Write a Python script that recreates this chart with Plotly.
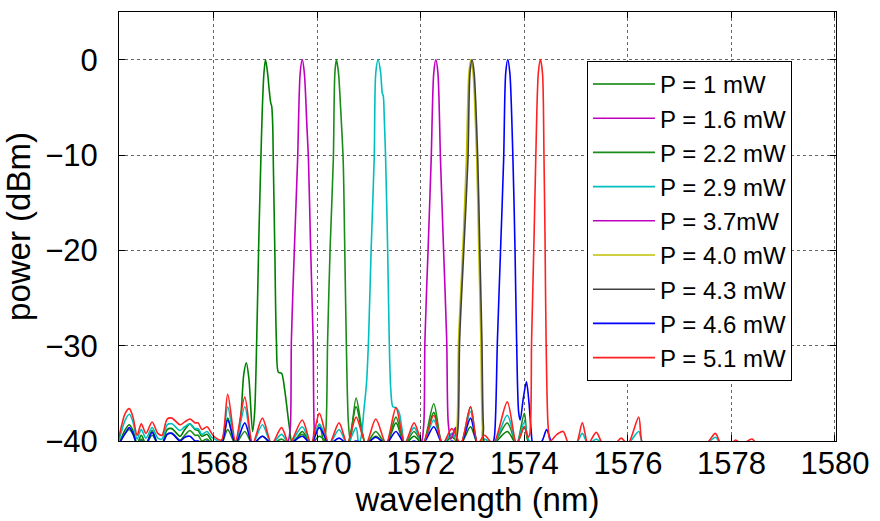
import plotly.graph_objects as go

# ---------------- data ----------------
# shared wavelength grid for the low-level ripple floor (nm)
floor_wl = [
    1566.17, 1566.29, 1566.37, 1566.44, 1566.52, 1566.60, 1566.69, 1566.81, 1566.92, 1567.00,
    1567.10, 1567.19, 1567.35, 1567.44, 1567.54, 1567.64, 1567.70, 1567.77, 1567.87, 1567.96,
    1568.02, 1568.15, 1568.27, 1568.42, 1568.60, 1568.75, 1568.94, 1569.12, 1569.31, 1569.46,
    1569.71, 1569.88, 1570.04, 1570.23, 1570.42, 1570.58, 1570.75, 1570.94, 1571.13, 1571.33,
    1571.52, 1571.69, 1571.87, 1572.04, 1572.25, 1572.42, 1572.60, 1572.77, 1572.96, 1573.10,
    1573.23, 1573.40, 1573.67, 1573.85, 1574.00, 1574.10, 1574.50, 1574.63, 1574.75, 1574.86,
    1575.00, 1575.12, 1575.23, 1575.39, 1575.52, 1575.75, 1575.87, 1576.00, 1576.21, 1576.29,
    1576.50, 1577.50, 1577.69, 1577.80, 1578.00, 1578.08, 1578.20, 1578.40, 1578.50, 1580.00,
]

floor_red = [
    -39.6, -37.1, -36.6, -37.5, -39.4, -38.2, -39.2, -38.0, -39.2, -39.4,
    -37.7, -37.6, -38.3, -38.0, -37.7, -38.1, -38.1, -38.8, -38.5, -39.2,
    -39.6, -39.9, -35.1, -40.0, -35.4, -40.3, -37.6, -40.3, -38.6, -40.3,
    -37.8, -40.3, -37.1, -40.3, -38.1, -40.3, -37.5, -40.3, -37.7, -40.3,
    -36.5, -40.3, -38.1, -40.3, -37.3, -40.3, -38.7, -40.3, -36.4, -40.3,
    -39.4, -40.3, -35.9, -40.3, -38.5, -39.8, -40.3, -39.3, -39.0, -40.3,
    -40.3, -38.1, -40.3, -39.1, -40.3, -40.3, -39.7, -40.3, -37.5, -40.3,
    -40.3, -40.3, -39.2, -40.3, -40.3, -39.9, -40.3, -39.8, -40.3, -40.3,
]

floor_cyan = [
    -39.9, -37.8, -37.2, -38.0, -39.8, -38.8, -39.7, -38.6, -39.7, -39.8,
    -38.3, -38.2, -38.9, -38.5, -38.2, -38.7, -38.7, -39.3, -39.0, -39.6,
    -39.8, -40.1, -36.4, -40.3, -36.4, -40.3, -38.3, -40.3, -39.3, -40.3,
    -38.5, -40.3, -38.2, -40.3, -38.8, -40.3, -38.6, -40.3, -40.3, -40.3,
    -37.0, -40.3, -38.6, -40.3, -37.8, -40.3, -39.2, -40.3, -36.9, -40.3,
    -39.8, -40.3, -37.3, -40.3, -38.0, -40.0, -40.3, -40.3, -40.3, -40.3,
    -40.3, -39.2, -40.3, -39.8, -40.3, -40.3, -40.3, -40.3, -39.0, -40.3,
    -40.3, -40.3, -39.6, -40.3, -40.3, -40.3, -40.3, -40.3, -40.3, -40.3,
]

floor_green1 = [
    -40.3, -38.8, -38.3, -38.9, -40.3, -39.4, -40.3, -38.9, -40.3, -40.3,
    -38.8, -38.7, -39.5, -38.8, -38.2, -38.8, -38.9, -39.5, -39.3, -40.0,
    -40.3, -40.3, -37.6, -40.3, -40.3, -40.3, -40.3, -40.3, -40.3, -40.3,
    -39.0, -40.3, -39.5, -40.3, -40.3, -40.3, -36.4, -40.3, -39.5, -40.3,
    -38.1, -40.3, -39.5, -40.3, -37.0, -40.3, -39.6, -40.3, -38.5, -40.3,
    -40.3, -40.3, -39.0, -40.3, -38.5, -40.3, -40.3, -40.3, -40.3, -40.3,
    -40.3, -40.3, -40.3, -40.3, -40.3, -40.3, -40.3, -40.3, -40.3, -40.3,
    -40.3, -40.3, -40.3, -40.3, -40.3, -40.3, -40.3, -40.3, -40.3, -40.3,
]

floor_green2 = [
    -40.3, -39.2, -38.8, -39.3, -40.3, -39.8, -40.3, -39.4, -40.3, -40.3,
    -39.3, -39.2, -39.9, -39.4, -38.9, -39.4, -39.4, -40.0, -39.8, -40.3,
    -40.3, -40.3, -38.8, -40.3, -39.0, -40.3, -39.5, -40.3, -39.8, -40.3,
    -39.3, -40.3, -38.3, -40.3, -40.3, -40.3, -35.5, -40.3, -39.0, -40.3,
    -37.5, -40.3, -39.0, -40.3, -36.1, -40.3, -39.3, -40.3, -36.4, -40.3,
    -40.3, -40.3, -38.1, -40.3, -37.1, -40.3, -40.3, -40.3, -40.3, -40.3,
    -40.3, -40.3, -40.3, -40.3, -40.3, -40.3, -40.3, -40.3, -40.3, -40.3,
    -40.3, -40.3, -40.3, -40.3, -40.3, -40.3, -40.3, -40.3, -40.3, -40.3,
]

floor_blue = [
    -40.3, -39.2, -38.6, -39.2, -40.3, -40.0, -40.3, -39.1, -40.3, -40.3,
    -39.3, -39.2, -40.0, -39.6, -39.5, -40.0, -40.0, -40.3, -40.0, -40.3,
    -40.3, -40.3, -37.8, -40.3, -38.1, -40.3, -39.5, -40.3, -40.2, -40.3,
    -39.5, -40.3, -38.6, -40.3, -39.7, -40.3, -40.0, -40.3, -39.6, -40.3,
    -39.0, -40.3, -40.0, -40.3, -38.5, -40.3, -40.0, -40.3, -37.6, -40.3,
    -40.3, -40.3, -40.3, -40.3, -40.3, -40.3, -40.3, -40.3, -40.3, -40.3,
    -40.3, -40.1, -40.3, -40.3, -40.3, -40.3, -40.3, -40.3, -40.3, -40.3,
    -40.3, -40.3, -40.3, -40.3, -40.3, -40.3, -40.3, -40.3, -40.3, -40.3,
]

# lasing lines (wavelength nm, power dBm)
wl_p1 = [1568.42, 1568.52, 1568.58, 1568.63, 1568.68, 1568.75, 1568.79, 1568.83, 1568.87,
         1568.91, 1568.94, 1568.97, 1569.00, 1569.04, 1569.07, 1569.10, 1569.12, 1569.14,
         1569.15, 1569.18, 1569.21, 1569.25, 1569.31, 1569.37, 1569.46, 1569.52]
db_p1 = [-40.3, -37.5, -33.0, -31.8, -33.5, -39.0, -37.0, -29.4, -19.0,
         -10.5, -4.9, -1.4, 0.0, -1.4, -3.1, -4.5, -4.9, -7.0,
         -10.5, -20.0, -29.4, -32.8, -32.9, -34.6, -38.5, -40.3]

wl_p16 = [1566.17, 1569.40, 1569.44, 1569.48, 1569.50, 1569.56, 1569.62, 1569.67, 1569.71,
          1569.75, 1569.80, 1569.83, 1569.87, 1569.92, 1569.94, 1569.97, 1580.00]
db_p16 = [-40.3, -40.3, -40.0, -38.5, -29.4, -19.5, -10.5, -1.4, 0.0,
          -1.4, -7.0, -10.5, -19.5, -29.4, -38.5, -40.3, -40.3]

wl_p22 = [1570.13, 1570.17, 1570.20, 1570.25, 1570.31, 1570.34, 1570.37, 1570.41,
          1570.45, 1570.50, 1570.53, 1570.56, 1570.60, 1570.64]
db_p22 = [-40.3, -38.5, -29.4, -19.5, -10.5, -1.4, 0.0, -1.4,
          -5.0, -10.5, -19.5, -29.4, -38.0, -40.0]

wl_p29 = [1570.80, 1570.85, 1570.90, 1570.95, 1570.99, 1571.04, 1571.10, 1571.13, 1571.175,
          1571.225, 1571.255, 1571.275, 1571.295, 1571.32, 1571.36, 1571.39, 1571.42, 1571.46,
          1571.52, 1571.58, 1571.63, 1571.68]
db_p29 = [-40.3, -39.5, -36.8, -34.0, -29.4, -20.0, -10.3, -1.4, 0.0,
          -1.4, -3.5, -3.8, -6.3, -10.3, -20.0, -29.4, -34.6, -36.4,
          -36.5, -37.0, -38.5, -40.3]

wl_p37 = [1566.17, 1571.98, 1572.02, 1572.06, 1572.08, 1572.14, 1572.20, 1572.25, 1572.29,
          1572.33, 1572.38, 1572.44, 1572.50, 1572.53, 1572.58, 1572.67, 1572.73, 1580.00]
db_p37 = [-40.3, -40.3, -40.0, -38.0, -29.4, -20.0, -10.5, -1.4, 0.0,
          -1.4, -10.5, -20.0, -29.4, -38.1, -39.8, -38.6, -40.3, -40.3]

wl_p40 = [1566.17, 1572.62, 1572.66, 1572.70, 1572.73, 1572.81, 1572.88, 1572.93, 1572.97,
          1573.01, 1573.08, 1573.12, 1573.16, 1573.19, 1573.23, 1580.00]
db_p40 = [-40.3, -40.3, -40.0, -38.5, -29.4, -20.0, -10.5, -1.4, 0.0,
          -1.4, -10.5, -20.0, -29.4, -38.5, -40.3, -40.3]

wl_p43 = [1566.17, 1572.64, 1572.68, 1572.72, 1572.75, 1572.83, 1572.91, 1572.95, 1572.99,
          1573.03, 1573.10, 1573.14, 1573.18, 1573.21, 1573.25, 1580.00]
db_p43 = [-40.3, -40.3, -40.0, -38.5, -29.4, -20.0, -10.5, -1.4, 0.0,
          -1.4, -10.5, -20.0, -29.4, -38.5, -40.3, -40.3]

wl_p46 = [1573.38, 1573.42, 1573.48, 1573.54, 1573.60, 1573.64, 1573.68, 1573.72, 1573.78,
          1573.82, 1573.85, 1573.89, 1573.92, 1573.98, 1574.04, 1574.09, 1574.13, 1574.17,
          1574.30, 1574.36, 1574.43, 1574.50, 1574.55]
db_p46 = [-40.3, -39.6, -29.4, -20.0, -10.5, -1.4, 0.0, -1.4, -10.5,
          -20.0, -29.4, -37.0, -37.8, -35.5, -33.8, -36.0, -38.8, -40.3,
          -40.3, -39.8, -38.8, -39.8, -40.3]

wl_p51 = [1574.07, 1574.10, 1574.14, 1574.19, 1574.22, 1574.27, 1574.31, 1574.35, 1574.38,
          1574.40, 1574.42, 1574.46, 1574.50]
db_p51 = [-39.6, -39.4, -29.4, -18.0, -10.5, -1.4, 0.0, -1.4, -10.5,
          -19.0, -29.4, -38.5, -40.0]

labels = ["P = 1 mW", "P = 1.6 mW", "P = 2.2 mW", "P = 2.9 mW", "P = 3.7mW",
          "P = 4.0 mW", "P = 4.3 mW", "P = 4.6 mW", "P = 5.1 mW"]
colors = ["#008000", "#bf00bf", "#1a8c1a", "#00bfbf", "#bf00bf",
          "#bfbf00", "#404040", "#0000ff", "#ff2020"]

x_ticks = [1568, 1570, 1572, 1574, 1576, 1578, 1580]
y_ticks = [-40, -30, -20, -10, 0]


def merge(floor_vals, peak_wl, peak_db):
    """Join a floor ripple with a lasing line (floor points under the line are dropped)."""
    if floor_vals is None:
        return list(peak_wl), list(peak_db)
    lo, hi = min(peak_wl), max(peak_wl)
    pts = [(w, p) for w, p in zip(floor_wl, floor_vals) if w < lo or w > hi]
    pts += list(zip(peak_wl, peak_db))
    pts.sort()
    return [a for a, _ in pts], [b for _, b in pts]


series = [
    (floor_green1, wl_p1, db_p1),
    (None, wl_p16, db_p16),
    (floor_green2, wl_p22, db_p22),
    (floor_cyan, wl_p29, db_p29),
    (None, wl_p37, db_p37),
    (None, wl_p40, db_p40),
    (None, wl_p43, db_p43),
    (floor_blue, wl_p46, db_p46),
    (floor_red, wl_p51, db_p51),
]

fig = go.Figure()
for (fv, pw, pd), name, col in zip(series, labels, colors):
    xs, ys = merge(fv, pw, pd)
    fig.add_trace(go.Scatter(
        x=xs, y=ys, mode="lines", name=name,
        line=dict(color=col, width=1.6, shape="spline", smoothing=0.8),
    ))

FAMILY = "Liberation Sans, Arial, Helvetica, sans-serif"
TICKFONT = dict(family=FAMILY, size=31, color="black")
TITLEFONT = dict(family=FAMILY, size=33, color="black")

fig.update_layout(
    width=880, height=521,
    margin=dict(l=119, r=44, t=12, b=80),
    paper_bgcolor="white", plot_bgcolor="white",
    showlegend=True,
    legend=dict(
        x=0.6527, y=0.886, xanchor="left", yanchor="top",
        bgcolor="white", bordercolor="black", borderwidth=1,
        font=dict(family=FAMILY, size=24, color="black"),
        itemwidth=62,
    ),
)
fig.update_xaxes(
    range=[1566.17, 1580.02], tickvals=x_ticks, ticktext=[str(v) for v in x_ticks],
    ticks="inside", ticklen=6, tickcolor="black",
    showline=True, linecolor="black", linewidth=1, mirror="ticks",
    showgrid=True, gridcolor="#666666", griddash="dot", gridwidth=1,
    zeroline=False, tickfont=TICKFONT, automargin=False, ticklabelstandoff=-5,
    title=dict(text="wavelength (nm)", font=TITLEFONT, standoff=0),
)
fig.update_yaxes(
    range=[-40, 5], tickvals=y_ticks,
    ticks="inside", ticklen=6, tickcolor="black",
    showline=True, linecolor="black", linewidth=1, mirror="ticks",
    showgrid=True, gridcolor="#666666", griddash="dot", gridwidth=1,
    zeroline=False, tickfont=TICKFONT, automargin=False, ticklabelstandoff=14,
    title=dict(text="power (dBm)", font=TITLEFONT, standoff=8),
)

fig.write_html("out.html")
